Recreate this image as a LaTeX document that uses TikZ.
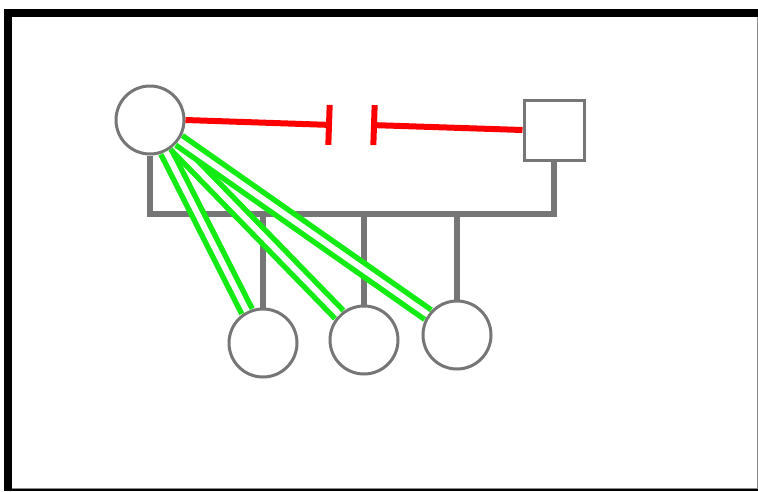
\documentclass[tikz,border=0pt]{standalone}
\usetikzlibrary{arrows.meta}
\definecolor{kingray}{RGB}{118,118,118}
\definecolor{lime}{RGB}{20,235,20}
\tikzset{
  person/.style={draw=kingray, fill=white, line width=3pt, inner sep=0pt},
  female/.style={person, circle, minimum size=68pt},
  male/.style={person, rectangle, minimum size=60pt},
  kinline/.style={draw=kingray, line width=6pt},
  childline/.style={draw=lime, line width=5.5pt, double=white, double distance=6pt},
  splitline/.style={draw=red, line width=6pt, -{Bar[width=40pt]}}
}
\begin{document}
\begin{tikzpicture}[x=1pt, y=-1pt]
\useasboundingbox (0,0) rectangle (758,491);
% frame
\fill[black] (4,9) rectangle (758,491);
\fill[white] (12,17) rectangle (757,489);
\draw[black!45, line width=1pt] (757,17) -- (757,488.5) -- (12,488.5);
% parents and children
\node[female] (mom) at (150,120) {};
\node[male] (dad) at (554,130) {};
\node[female] (kid1) at (263,343) {};
\node[female] (kid2) at (364,340) {};
\node[female] (kid3) at (457,335) {};
\coordinate (sibs) at (0,214);
% separation
\coordinate (cutL) at (332,125);
\coordinate (cutR) at (371,125);
\draw[splitline] (mom.east) -- (cutL);
\draw[splitline] (dad.west) -- (cutR);
% family lines
\draw[kinline] (mom.south) -- (mom.south |- sibs) -| (dad.south);
\foreach \k in {1,2,3}
  \draw[kinline] (kid\k.north) -- (kid\k.north |- sibs);
\foreach \k in {1,2,3}
  \draw[childline] (mom) -- (kid\k);
\end{tikzpicture}
\end{document}
